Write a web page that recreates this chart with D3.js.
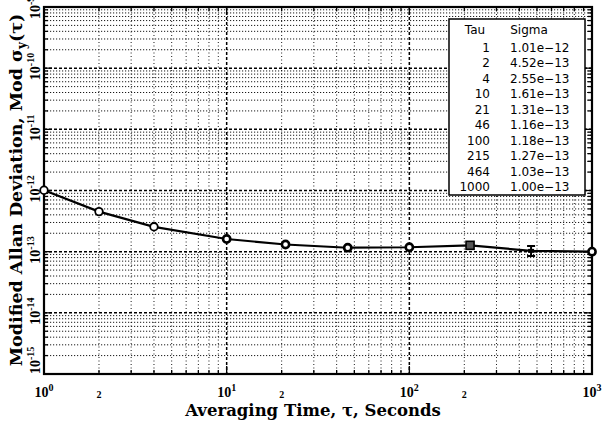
<!DOCTYPE html>
<html>
<head>
<meta charset="utf-8">
<script src="https://cdn.jsdelivr.net/npm/d3@7"></script>
<style>
  body { margin: 0; background: #fff; }
  svg { display: block; }
</style>
</head>
<body>
<div></div>
<script>
// data
var tau = [1, 2, 4, 10, 21, 46, 100, 215, 464, 1000];
var sigma = [1.01e-12, 4.52e-13, 2.55e-13, 1.61e-13, 1.31e-13, 1.16e-13, 1.18e-13, 1.27e-13, 1.03e-13, 1.00e-13];
var markerShape = ["circle", "circle", "circle", "circle", "circle", "circle", "circle", "square", "bar", "circle"];
var xDecades = [0, 1, 2, 3];
var xTwos = [2, 20, 200];
var yDecades = [-15, -14, -13, -12, -11, -10, -9];

var width = 603;
var height = 427;
var pLeft = 44, pRight = 592, pTop = 7, pBottom = 374;
var serif = "'DejaVu Serif', 'Liberation Serif', serif";
var tickFont = "'Liberation Serif', 'DejaVu Serif', serif";

var svg = d3.select('div')
    .append('svg')
    .attr('width', width)
    .attr('height', height);

var x = d3.scaleLog().domain([1, 1000]).range([pLeft, pRight]);
var y = d3.scaleLog().domain([1e-15, 1e-9]).range([pBottom, pTop]);

var xAll = x.ticks();
var yAll = y.ticks();
function isMajor(v) {
    var l = Math.log10(v);
    return Math.abs(l - Math.round(l)) < 1e-6;
}

// grid
var grid = svg.append('g');
grid.selectAll('.vx')
    .data(xAll)
    .enter()
    .append('line')
    .attr('x1', d => x(d)).attr('x2', d => x(d))
    .attr('y1', pTop).attr('y2', pBottom)
    .attr('stroke', '#000')
    .attr('stroke-width', d => isMajor(d) ? 1.5 : 0.9)
    .attr('stroke-dasharray', d => isMajor(d) ? '3,2' : '1,2.5');

grid.selectAll('.hy')
    .data(yAll)
    .enter()
    .append('line')
    .attr('x1', pLeft).attr('x2', pRight)
    .attr('y1', d => y(d)).attr('y2', d => y(d))
    .attr('stroke', '#000')
    .attr('stroke-width', d => isMajor(d) ? 1.5 : 0.9)
    .attr('stroke-dasharray', d => isMajor(d) ? '3,2' : '1.2,1.8');

// inward ticks on all four sides
function tickSize(d) { return isMajor(d) ? 8 : 4; }
var ticks = svg.append('g').attr('stroke', '#000').attr('stroke-width', 1.3);
[pBottom, pTop].forEach(function(yy, k) {
    ticks.selectAll('.tx' + k)
        .data(xAll)
        .enter()
        .append('line')
        .attr('x1', d => x(d)).attr('x2', d => x(d))
        .attr('y1', yy)
        .attr('y2', d => k == 0 ? yy - tickSize(d) : yy + tickSize(d));
});
[pLeft, pRight].forEach(function(xx, k) {
    ticks.selectAll('.ty' + k)
        .data(yAll)
        .enter()
        .append('line')
        .attr('y1', d => y(d)).attr('y2', d => y(d))
        .attr('x1', xx)
        .attr('x2', d => k == 0 ? xx + tickSize(d) : xx - tickSize(d));
});

// frame
svg.append('rect')
    .attr('x', pLeft).attr('y', pTop)
    .attr('width', pRight - pLeft).attr('height', pBottom - pTop)
    .attr('fill', 'none')
    .attr('stroke', '#000')
    .attr('stroke-width', 2.2);

// data line
var line = d3.line()
    .x((d, i) => x(tau[i]))
    .y(d => y(d));

svg.append('path')
    .datum(sigma)
    .attr('d', line)
    .attr('fill', 'none')
    .attr('stroke', '#000')
    .attr('stroke-width', 2.2);

// markers
var marks = svg.append('g');
sigma.forEach(function(s, i) {
    var cx = x(tau[i]), cy = y(s);
    if (markerShape[i] == 'circle') {
        marks.append('circle')
            .attr('cx', cx).attr('cy', cy).attr('r', i < 3 ? 3.8 : 3.6)
            .attr('fill', '#fff').attr('stroke', '#000')
            .attr('stroke-width', i < 3 ? 1.8 : 2.6);
    } else if (markerShape[i] == 'square') {
        marks.append('rect')
            .attr('x', cx - 4).attr('y', cy - 4).attr('width', 8).attr('height', 8)
            .attr('fill', '#555').attr('stroke', '#000').attr('stroke-width', 1.6);
    } else {
        marks.append('path')
            .attr('d', 'M' + (cx - 4) + ',' + (cy - 5) + 'h8M' + cx + ',' + (cy - 5) + 'v10M' + (cx - 4) + ',' + (cy + 5) + 'h8')
            .attr('fill', 'none').attr('stroke', '#000').attr('stroke-width', 2);
        marks.append('rect')
            .attr('x', cx - 3).attr('y', cy - 2).attr('width', 6).attr('height', 4)
            .attr('fill', '#000');
    }
});

// x tick labels
var xl = svg.append('g')
    .style('font-family', tickFont)
    .attr('font-weight', 700)
    .attr('fill', '#000');
xDecades.forEach(function(e) {
    var t = xl.append('text')
        .attr('x', x(Math.pow(10, e)))
        .attr('y', 397)
        .attr('text-anchor', 'middle')
        .style('font-size', '14px');
    t.append('tspan').text('10');
    t.append('tspan').attr('dy', -6).style('font-size', '10px').text(e);
});
xl.selectAll('.two')
    .data(xTwos)
    .enter()
    .append('text')
    .attr('x', d => x(d))
    .attr('y', 398)
    .attr('text-anchor', 'middle')
    .style('font-size', '10px')
    .text('2');

// y tick labels (rotated, "10" sitting just below the tick, reading upward)
var yl = svg.append('g')
    .style('font-family', tickFont)
    .attr('font-weight', 700)
    .attr('fill', '#000');
yDecades.forEach(function(e) {
    var ty = Math.min(y(Math.pow(10, e)) + 12, pBottom);
    var t = yl.append('text')
        .attr('transform', 'translate(40,' + ty + ') rotate(-90)')
        .attr('text-anchor', 'start')
        .style('font-size', '14px');
    t.append('tspan').text('10');
    t.append('tspan').attr('dy', -6).style('font-size', '10px').text(String(e).replace('-', '‑'));
});

// axis titles
svg.append('text')
    .attr('x', 313)
    .attr('y', 416)
    .attr('text-anchor', 'middle')
    .style('font-family', serif)
    .style('font-size', '16.5px')
    .attr('font-weight', 700)
    .text('Averaging Time, τ, Seconds');

var yt = svg.append('text')
    .attr('transform', 'translate(22,190) rotate(-90)')
    .attr('text-anchor', 'middle')
    .style('font-family', serif)
    .style('font-size', '17.5px')
    .attr('font-weight', 700);
yt.append('tspan').text('Modified Allan Deviation, Mod σ');
yt.append('tspan').attr('dy', 4).style('font-size', '12px').text('y');
yt.append('tspan').attr('dy', -4).text('(τ)');

// legend table
var lx = 449, ly = 19, lw = 136, lh = 176;
var legend = svg.append('g');
legend.append('rect')
    .attr('x', lx).attr('y', ly).attr('width', lw).attr('height', lh)
    .attr('fill', '#fff').attr('stroke', '#000').attr('stroke-width', 1.5);

var sans = "'DejaVu Sans', sans-serif";
legend.append('text')
    .attr('x', 475).attr('y', 34)
    .attr('text-anchor', 'middle')
    .style('font-family', sans).style('font-size', '12px')
    .text('Tau');
legend.append('text')
    .attr('x', 529).attr('y', 34)
    .attr('text-anchor', 'middle')
    .style('font-family', sans).style('font-size', '12px')
    .text('Sigma');

var rowY = d3.scaleLinear().domain([0, tau.length - 1]).range([52, 191]);
legend.selectAll('.tau')
    .data(tau)
    .enter()
    .append('text')
    .attr('x', 490)
    .attr('y', (d, i) => rowY(i))
    .attr('text-anchor', 'end')
    .style('font-family', sans).style('font-size', '12px')
    .text(d => d);
legend.selectAll('.sig')
    .data(sigma)
    .enter()
    .append('text')
    .attr('x', 510)
    .attr('y', (d, i) => rowY(i))
    .style('font-family', sans).style('font-size', '12px')
    .text(d => d.toExponential(2).replace('-', '−'));
</script>
</body>
</html>
